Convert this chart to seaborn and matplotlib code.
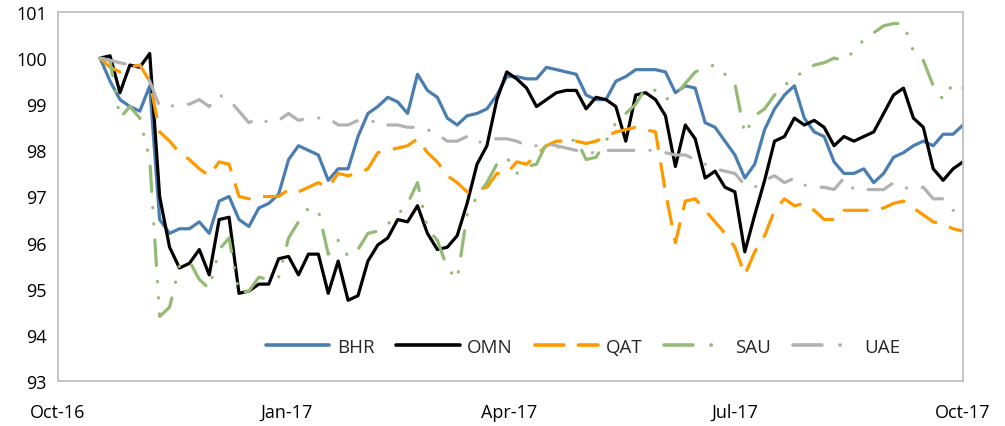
import numpy as np
import pandas as pd
import seaborn as sns
import matplotlib.pyplot as plt
import matplotlib.dates as mdates

# sampled every 4 days from 18 Oct 2016 to 1 Oct 2017
dates = pd.date_range("2016-10-18", periods=88, freq="4D")

bhr = [100.0, 99.5, 99.1, 98.95, 98.85, 99.4, 96.5, 96.2, 96.3, 96.3,
       96.45, 96.2, 96.9, 97.0, 96.5, 96.35, 96.75, 96.85, 97.05, 97.8,
       98.1, 98.0, 97.9, 97.35, 97.6, 97.6, 98.3, 98.8, 98.95, 99.15,
       99.05, 98.8, 99.65, 99.3, 99.15, 98.7, 98.55, 98.75, 98.8, 98.9,
       99.2, 99.6, 99.6, 99.55, 99.55, 99.8, 99.75, 99.7, 99.65, 99.2,
       99.1, 99.1, 99.5, 99.6, 99.75, 99.75, 99.75, 99.7, 99.25, 99.4,
       99.35, 98.6, 98.5, 98.2, 97.9, 97.4, 97.7, 98.45, 98.9, 99.2,
       99.4, 98.7, 98.4, 98.3, 97.75, 97.5, 97.5, 97.6, 97.3, 97.5,
       97.85, 97.95, 98.1, 98.2, 98.1, 98.35, 98.35, 98.55]

omn = [100.0, 100.05, 99.25, 99.85, 99.8, 100.1, 97.0, 95.9, 95.45, 95.55,
       95.85, 95.3, 96.5, 96.55, 94.9, 94.95, 95.1, 95.1, 95.65, 95.7,
       95.3, 95.75, 95.75, 94.9, 95.6, 94.75, 94.85, 95.6, 95.95, 96.1,
       96.5, 96.45, 96.8, 96.2, 95.85, 95.9, 96.15, 96.85, 97.7, 98.1,
       99.1, 99.7, 99.55, 99.35, 98.95, 99.1, 99.25, 99.3, 99.3, 98.9,
       99.15, 99.1, 98.95, 98.2, 99.2, 99.25, 99.1, 98.75, 97.65, 98.55,
       98.25, 97.4, 97.55, 97.2, 97.1, 95.8, 96.6, 97.35, 98.2, 98.3,
       98.7, 98.55, 98.65, 98.5, 98.1, 98.3, 98.2, 98.3, 98.4, 98.8,
       99.2, 99.35, 98.7, 98.5, 97.6, 97.35, 97.6, 97.75]

qat = [100.0, 99.8, 99.7, 99.8, 99.85, 99.5, 98.4, 98.2, 97.95, 97.8,
       97.6, 97.45, 97.75, 97.7, 97.0, 96.95, 97.0, 97.0, 97.0, 97.15,
       97.1, 97.2, 97.3, 97.2, 97.5, 97.45, 97.5, 97.6, 97.95, 98.0,
       98.05, 98.1, 98.25, 97.95, 97.75, 97.45, 97.3, 97.1, 97.15, 97.2,
       97.5, 97.5, 97.75, 97.7, 97.9, 98.1, 98.2, 98.2, 98.2, 98.15,
       98.2, 98.3, 98.4, 98.45, 98.5, 98.45, 98.4, 97.1, 96.0, 96.9,
       96.95, 96.7, 96.45, 96.2, 95.9, 95.3, 95.8, 96.15, 96.7, 96.95,
       96.8, 96.85, 96.7, 96.5, 96.5, 96.7, 96.7, 96.7, 96.7, 96.75,
       96.85, 96.9, 96.75, 96.6, 96.45, 96.4, 96.3, 96.25]

sau = [100.0, 99.95, 98.7, 98.95, 98.7, 97.8, 94.4, 94.6, 95.5, 95.6,
       95.2, 95.0, 95.85, 96.1, 94.9, 94.95, 95.25, 95.2, 95.25, 96.1,
       96.45, 96.75, 96.7, 95.75, 96.05, 95.7, 95.85, 96.2, 96.25, 96.4,
       96.6, 96.85, 97.3, 96.3, 96.05, 95.45, 95.2, 96.6, 97.0, 97.3,
       97.7, 97.85, 97.5, 97.65, 97.7, 98.15, 98.05, 98.15, 98.25, 97.8,
       97.85, 98.2, 98.6, 98.8, 99.0, 99.35, 99.3, 99.1, 99.2, 99.45,
       99.7, 99.8, 99.85, 99.65, 99.45, 98.35, 98.75, 98.9, 99.2, 99.4,
       99.6, 99.7, 99.85, 99.9, 100.0, 99.95, 100.15, 100.4, 100.55, 100.7,
       100.75, 100.75, 100.15, 99.95, 99.4, 99.1, 99.45, 99.35]

uae = [100.0, 99.95, 99.9, 99.85, 99.85, 99.5, 98.95, 98.95, 99.0, 99.0,
       99.1, 98.95, 99.2, 99.1, 98.85, 98.6, 98.7, 98.6, 98.65, 98.8,
       98.65, 98.7, 98.7, 98.7, 98.55, 98.55, 98.65, 98.6, 98.65, 98.55,
       98.55, 98.5, 98.5, 98.45, 98.35, 98.2, 98.2, 98.3, 98.15, 98.25,
       98.25, 98.25, 98.2, 98.1, 98.1, 98.15, 98.1, 98.05, 98.0, 97.95,
       97.95, 98.0, 98.0, 98.0, 98.0, 98.0, 98.0, 97.95, 97.9, 97.9,
       97.8, 97.7, 97.6, 97.55, 97.5, 97.25, 97.2, 97.35, 97.45, 97.3,
       97.4, 97.25, 97.2, 97.2, 97.15, 97.4, 97.15, 97.15, 97.15, 97.15,
       97.3, 97.2, 97.15, 97.2, 96.95, 96.95, 96.7, 96.65]

names = ["BHR", "OMN", "QAT", "SAU", "UAE"]
colors = {"BHR": "#4a7eb0", "OMN": "#000000", "QAT": "#ff9900",
          "SAU": "#93bb75", "UAE": "#b2b2b2"}
dash_map = {"BHR": "", "OMN": "", "QAT": (8, 4),
            "SAU": (8, 5, 0.1, 5, 0.1, 5), "UAE": (8, 5, 0.1, 5)}

df = pd.DataFrame({"date": dates, "BHR": bhr, "OMN": omn, "QAT": qat,
                   "SAU": sau, "UAE": uae})
long = df.melt(id_vars="date", var_name="country", value_name="value")

sns.set_theme(style="white")
plt.rcParams["font.family"] = ["Open Sans", "DejaVu Sans"]

fig = plt.figure(figsize=(10.05, 4.27), dpi=100)
ax = fig.add_axes([0.0577, 0.1054, 0.9005, 0.8642])

sns.lineplot(data=long, x="date", y="value", hue="country", style="country",
             hue_order=names, style_order=names, palette=colors,
             dashes=dash_map, linewidth=2.3, ax=ax)

for ln in ax.get_lines():
    ln.set_dash_capstyle("round")
for ln, nm in zip(ax.get_lines(), names):
    if nm == "QAT":
        ln.set_dash_capstyle("butt")

ax.set_xlim(pd.Timestamp("2016-10-01"), pd.Timestamp("2017-10-01"))
ax.set_ylim(93, 101)
ax.set_yticks(range(93, 102))
ax.set_xticks([pd.Timestamp(d) for d in
               ["2016-10-01", "2017-01-01", "2017-04-01", "2017-07-01", "2017-10-01"]])
ax.xaxis.set_major_formatter(mdates.DateFormatter("%b-%y"))
ax.set_xlabel("")
ax.set_ylabel("")

for sp in ax.spines.values():
    sp.set_color("#bfbfbf")
    sp.set_linewidth(1.3)

ax.tick_params(axis="x", direction="in", length=5, width=1, color="#bfbfbf",
               pad=16, labelsize=13, labelcolor="black")
ax.tick_params(axis="y", length=0, pad=8, labelsize=13, labelcolor="black")

handles, labels = ax.get_legend_handles_labels()
for h in handles:
    h.set_linewidth(2.6)
ax.legend(handles, labels, loc="center", bbox_to_anchor=(0.58, 0.092),
          ncol=5, frameon=False, fontsize=13.5, handlelength=3.4,
          handletextpad=0.4, columnspacing=1.15)

fig.savefig("out.png", dpi=100)
